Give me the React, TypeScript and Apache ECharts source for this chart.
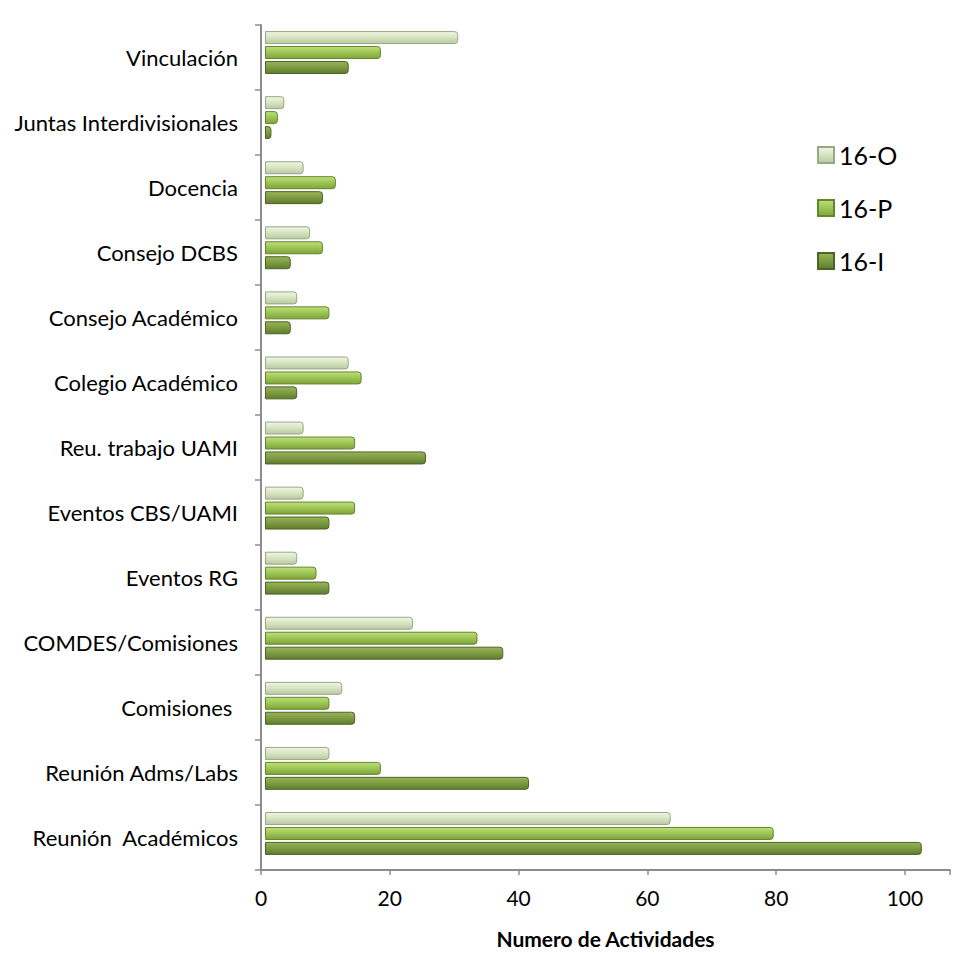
import React, { useEffect, useRef } from "react";
import * as echarts from "echarts";

const categories = [
  "Vinculación",
  "Juntas Interdivisionales",
  "Docencia",
  "Consejo DCBS",
  "Consejo Académico",
  "Colegio Académico",
  "Reu. trabajo UAMI",
  "Eventos CBS/UAMI",
  "Eventos RG",
  "COMDES/Comisiones",
  "Comisiones ",
  "Reunión Adms/Labs",
  "Reunión  Académicos",
];
const seriesNames = ["16-O", "16-P", "16-I"];
const values16O = [30, 3, 6, 7, 5, 13, 6, 6, 5, 23, 12, 10, 63];
const values16P = [18, 2, 11, 9, 10, 15, 14, 14, 8, 33, 10, 18, 79];
const values16I = [13, 1, 9, 4, 4, 5, 25, 10, 10, 37, 14, 41, 102];
const xTicks = [0, 20, 40, 60, 80, 100];

const FONT = "Lato";

function grad(c1: string, c2: string, c3: string) {
  return new echarts.graphic.LinearGradient(0, 0, 0, 1, [
    { offset: 0, color: c1 },
    { offset: 0.45, color: c2 },
    { offset: 1, color: c3 },
  ]);
}

export default function App() {
  const ref = useRef<HTMLDivElement>(null);
  useEffect(() => {
    if (!ref.current) return;
    const chart = echarts.init(ref.current, undefined, { renderer: "svg" });
    const styles = [
      { fill: grad("#f0f5e6", "#d9e6c3", "#b9c9a2"), border: "#98a785", color: "#d7e4bd" },
      { fill: grad("#bde07a", "#9fc857", "#7fa33c"), border: "#66842c", color: "#9bc452" },
      { fill: grad("#98b55a", "#7f9d43", "#607b2f"), border: "#4c6424", color: "#7e9c42" },
    ];
    const data = [values16O, values16P, values16I];
    const XMAX = 107;
    chart.setOption({
      animation: false,
      backgroundColor: "#ffffff",
      legend: {
        orient: "vertical",
        left: 817,
        top: 141,
        padding: 0,
        itemWidth: 16,
        itemHeight: 16,
        itemGap: 25,
        icon: "rect",
        textStyle: { fontFamily: FONT, fontSize: 25, color: "#000", lineHeight: 28 },
        data: seriesNames,
      },
      grid: [
        { left: 261, right: 8, top: 25, bottom: 83, containLabel: false },
        { left: 265, right: 4, top: 20, bottom: 88, containLabel: false },
      ],
      xAxis: [
        {
          type: "value",
          gridIndex: 0,
          min: 0,
          max: XMAX,
          interval: 20,
          splitLine: { show: false },
          axisLine: { show: true, lineStyle: { color: "#8c8c8c", width: 2 } },
          axisTick: { show: true, length: 5, lineStyle: { color: "#8c8c8c", width: 1.5 } },
          axisLabel: {
            fontFamily: FONT,
            fontSize: 21,
            color: "#000",
            margin: 17,
            formatter: (v: number) => (xTicks.includes(v) ? String(v) : ""),
          },
          name: "Numero de Actividades",
          nameLocation: "middle",
          nameGap: 58,
          nameTextStyle: { fontFamily: FONT, fontSize: 21, fontWeight: "bold", color: "#000" },
        },
        {
          type: "value",
          gridIndex: 1,
          min: 0,
          max: XMAX,
          show: false,
        },
      ],
      yAxis: [
        {
          type: "category",
          gridIndex: 0,
          data: categories,
          inverse: true,
          axisLine: { show: true, lineStyle: { color: "#8c8c8c", width: 2 } },
          axisTick: { show: true, length: 6, lineStyle: { color: "#8c8c8c", width: 1.5 } },
          axisLabel: { fontFamily: FONT, fontSize: 22, color: "#000", margin: 23 },
          splitLine: { show: false },
        },
        {
          type: "category",
          gridIndex: 1,
          data: categories,
          inverse: true,
          show: false,
        },
      ],
      series: seriesNames.map((name, i) => ({
        name,
        type: "bar",
        xAxisIndex: 1,
        yAxisIndex: 1,
        data: data[i],
        barWidth: 13,
        barGap: "15%",
        color: styles[i].color,
        itemStyle: {
          color: styles[i].fill,
          borderColor: styles[i].border,
          borderWidth: 1,
          borderRadius: [0, 3, 3, 0],
        },
      })),
    });
    return () => chart.dispose();
  }, []);
  return (
    <div
      ref={ref}
      style={{ position: "fixed", left: 0, top: 0, width: 958, height: 954, background: "#fff" }}
    />
  );
}
